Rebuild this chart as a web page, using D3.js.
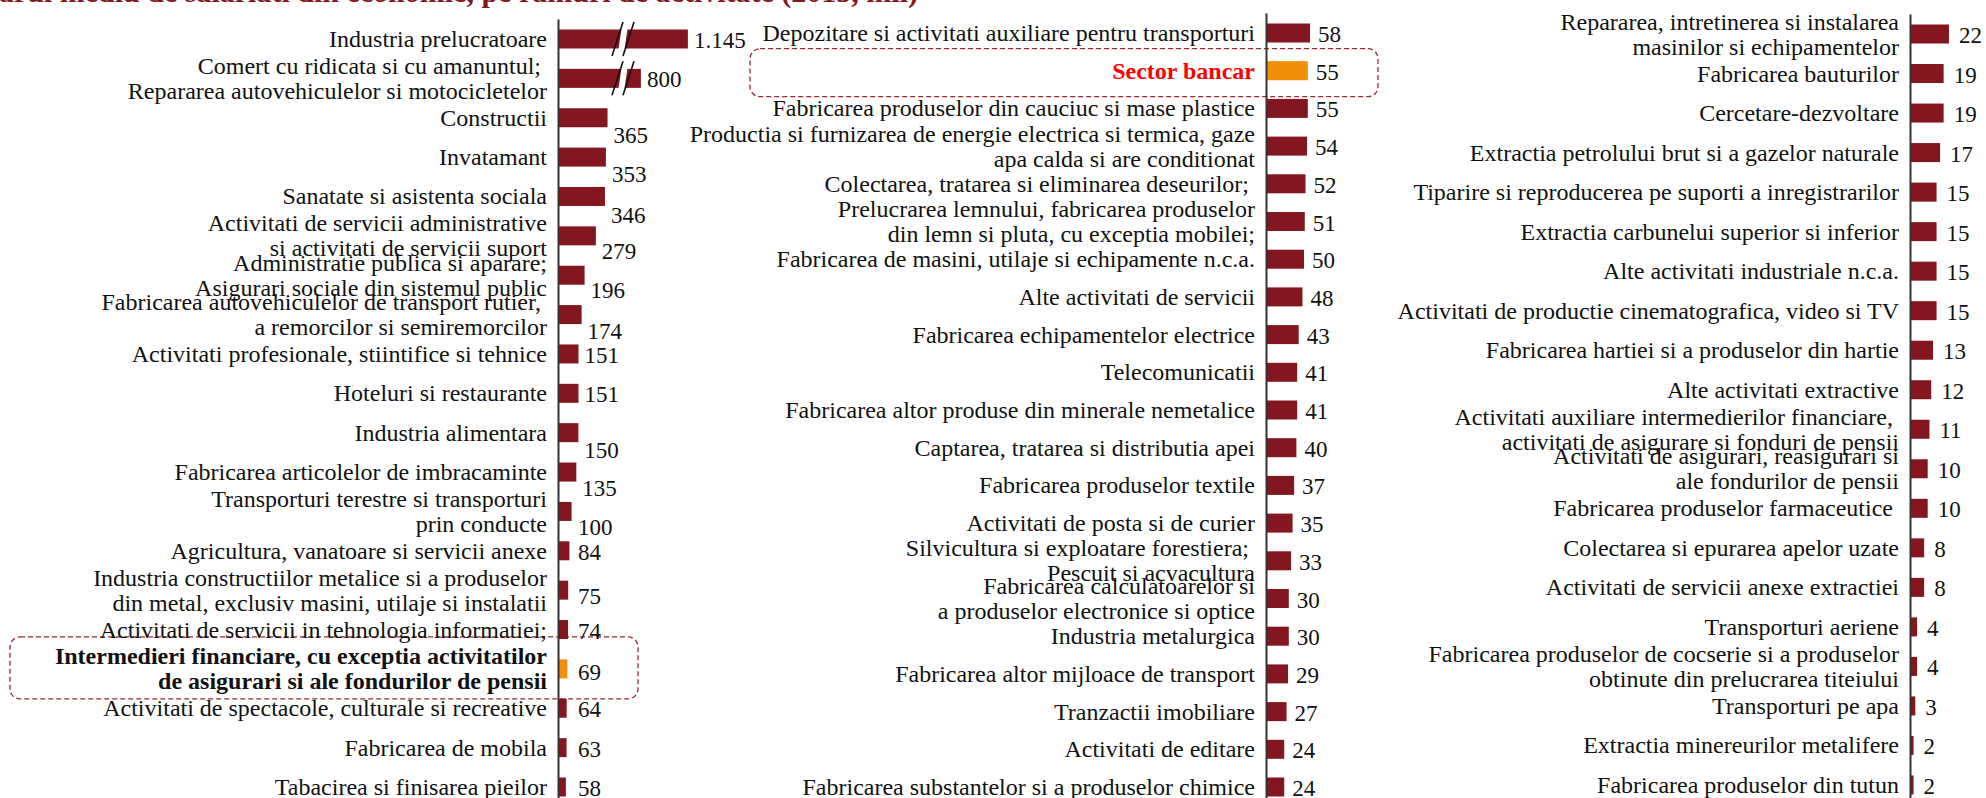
<!DOCTYPE html>
<html>
<head>
<meta charset="utf-8">
<script src="https://cdn.jsdelivr.net/npm/d3@7"></script>
<style>
  html, body { margin: 0; padding: 0; background: #fff; }
  svg { display: block; font-family: "Liberation Serif", "Times New Roman", serif; }
  .label { font-size: 24px; fill: #111; }
  .value { font-size: 23px; fill: #111; }
  .axis path { stroke: #333; stroke-width: 2; }
</style>
</head>
<body>
<svg id="chart" width="1986" height="798"></svg>
<script>
var titleText = "Numarul mediu de salariati din economie, pe ramuri de activitate (2015, mii)";

// Column 1
var sectorsA = [
  "Industria prelucratoare",
  "Comert cu ridicata si cu amanuntul;\u00a0\nRepararea autovehiculelor si motocicletelor",
  "Constructii",
  "Invatamant",
  "Sanatate si asistenta sociala",
  "Activitati de servicii administrative\nsi activitati de servicii suport",
  "Administratie publica si aparare;\nAsigurari sociale din sistemul public",
  "Fabricarea autovehiculelor de transport rutier,\u00a0\na remorcilor si semiremorcilor",
  "Activitati profesionale, stiintifice si tehnice",
  "Hoteluri si restaurante",
  "Industria alimentara",
  "Fabricarea articolelor de imbracaminte",
  "Transporturi terestre si transporturi\nprin conducte",
  "Agricultura, vanatoare si servicii anexe",
  "Industria constructiilor metalice si a produselor\ndin metal, exclusiv masini, utilaje si instalatii",
  "Activitati de servicii in tehnologia informatiei;",
  "Intermedieri financiare, cu exceptia activitatilor\nde asigurari si ale fondurilor de pensii",
  "Activitati de spectacole, culturale si recreative",
  "Fabricarea de mobila",
  "Tabacirea si finisarea pieilor"
];
var valuesA = [1145, 800, 365, 353, 346, 279, 196, 174, 151, 151, 150, 135, 100, 84, 75, 74, 69, 64, 63, 58];

// Column 2
var sectorsB = [
  "Depozitare si activitati auxiliare pentru transporturi",
  "Sector bancar",
  "Fabricarea produselor din cauciuc si mase plastice",
  "Productia si furnizarea de energie electrica si termica, gaze\napa calda si are conditionat",
  "Colectarea, tratarea si eliminarea deseurilor;\u00a0",
  "Prelucrarea lemnului, fabricarea produselor\ndin lemn si pluta, cu exceptia mobilei;",
  "Fabricarea de masini, utilaje si echipamente n.c.a.",
  "Alte activitati de servicii",
  "Fabricarea echipamentelor electrice",
  "Telecomunicatii",
  "Fabricarea altor produse din minerale nemetalice",
  "Captarea, tratarea si distributia apei",
  "Fabricarea produselor textile",
  "Activitati de posta si de curier",
  "Silvicultura si exploatare forestiera;\u00a0\nPescuit si acvacultura",
  "Fabricarea calculatoarelor si\na produselor electronice si optice",
  "Industria metalurgica",
  "Fabricarea altor mijloace de transport",
  "Tranzactii imobiliare",
  "Activitati de editare",
  "Fabricarea substantelor si a produselor chimice"
];
var valuesB = [58, 55, 55, 54, 52, 51, 50, 48, 43, 41, 41, 40, 37, 35, 33, 30, 30, 29, 27, 24, 24];

// Column 3
var sectorsC = [
  "Repararea, intretinerea si instalarea\nmasinilor si echipamentelor",
  "Fabricarea bauturilor",
  "Cercetare-dezvoltare",
  "Extractia petrolului brut si a gazelor naturale",
  "Tiparire si reproducerea pe suporti a inregistrarilor",
  "Extractia carbunelui superior si inferior",
  "Alte activitati industriale n.c.a.",
  "Activitati de productie cinematografica, video si TV",
  "Fabricarea hartiei si a produselor din hartie",
  "Alte activitati extractive",
  "Activitati auxiliare intermedierilor financiare,\u00a0\nactivitati de asigurare si fonduri de pensii",
  "Activitati de asigurari, reasigurari si\nale fondurilor de pensii",
  "Fabricarea produselor farmaceutice\u00a0",
  "Colectarea si epurarea apelor uzate",
  "Activitati de servicii anexe extractiei",
  "Transporturi aeriene",
  "Fabricarea produselor de cocserie si a produselor\nobtinute din prelucrarea titeiului",
  "Transporturi pe apa",
  "Extractia minereurilor metalifere",
  "Fabricarea produselor din tutun"
];
var valuesC = [22, 19, 19, 17, 15, 15, 15, 15, 13, 12, 11, 10, 10, 8, 8, 4, 4, 3, 2, 2];

var focusSector = sectorsA[16];   // bold black label
var bankSector = "Sector bancar"; // red label

var COLORS = {
  bar: "#84161f",
  highlight: "#f08f0a",
  text: "#111",
  bank: "#ff0000",
  box: "#9b2b33",
  title: "#84161f"
};

var fmt = d3.formatLocale({ decimal: ",", thousands: ".", grouping: [3], currency: ["", ""] }).format(",d");

var breakAt = 420;

var panels = [
  {
    names: sectorsA, values: valuesA, axisX: 558, top: 19, first: 39, last: 787,
    x: d3.scaleLinear().domain([0, breakAt, 610, 1300]).range([0, 57, 57, 151]),
    gap: 6, minLabel: 20,
    // value labels that sit lower than their bar (by row index)
    drop: { 2: 16, 3: 16, 4: 18, 5: 14, 6: 14, 7: 15, 10: 16, 11: 15, 12: 15, 14: 5, 16: 2 },
    box: { x0: 10, x1: 638, h: 62, dy: -1 }
  },
  {
    names: sectorsB, values: valuesB, axisX: 1266, top: 13, first: 33, last: 787,
    x: d3.scaleLinear().domain([0, 60]).range([0, 45.6]),
    gap: 8, minLabel: 0, drop: {},
    box: { x0: 750, x1: 1378, h: 48, dy: 2 }
  },
  {
    names: sectorsC, values: valuesC, axisX: 1910, top: 14, first: 34, last: 785,
    x: d3.scaleLinear().domain([0, 25]).range([0, 44.25]),
    gap: 10, minLabel: 0, drop: {}
  }
];

var barHeight = 19;
var lineGap = 25;

var svg = d3.select("#chart");

// Title (cropped at the top edge, as in the source)
svg.append("text")
  .attr("x", 918)
  .attr("y", 2)
  .attr("text-anchor", "end")
  .attr("font-size", 30)
  .attr("font-weight", "bold")
  .attr("fill", COLORS.title)
  .text(titleText);

panels.forEach(function(p) {
  var rows = p.names.map(function(name, i) { return { name: name, value: p.values[i], i: i }; });

  var y = d3.scalePoint()
    .domain(p.names)
    .range([p.first, p.last]);

  var g = svg.append("g").attr("transform", "translate(" + p.axisX + ",0)");

  // dashed highlight box
  var boxed = rows.filter(function(d) { return d.name === focusSector || d.name === bankSector; });
  if (p.box) {
    boxed.forEach(function(d) {
      g.append("rect")
        .attr("x", p.box.x0 - p.axisX)
        .attr("y", y(d.name) + p.box.dy - p.box.h / 2)
        .attr("width", p.box.x1 - p.box.x0)
        .attr("height", p.box.h)
        .attr("rx", 10)
        .attr("fill", "none")
        .attr("stroke", COLORS.box)
        .attr("stroke-width", 1.3)
        .attr("stroke-dasharray", "5,3");
    });
  }

  // bars
  g.append("g")
    .selectAll("rect")
    .data(rows)
    .enter()
    .append("rect")
    .attr("x", 0)
    .attr("y", function(d) { return y(d.name) - barHeight / 2; })
    .attr("width", function(d) { return p.x(d.value); })
    .attr("height", barHeight)
    .attr("fill", function(d) {
      return (d.name === focusSector || d.name === bankSector) ? COLORS.highlight : COLORS.bar;
    });

  // axis break marks on the long bars
  rows.filter(function(d) { return d.value > p.x.domain()[2] && p.x.domain().length > 2; })
    .forEach(function(d) {
      var xc = p.x(breakAt) + 8, yc = y(d.name);
      g.append("path")
        .attr("d", "M" + (xc - 0.5) + "," + (yc - 17) + "L" + (xc + 5.5) + "," + (yc - 17) +
                   "L" + (xc + 0.5) + "," + (yc + 17) + "L" + (xc - 5.5) + "," + (yc + 17) + "Z")
        .attr("fill", "#fff");
      [-5.5, 5.5].forEach(function(off) {
        g.append("line")
          .attr("x1", xc + off + 5.5).attr("y1", yc - 17)
          .attr("x2", xc + off - 5.5).attr("y2", yc + 17)
          .attr("stroke", "#111")
          .attr("stroke-width", 1.6);
      });
    });

  // vertical axis line
  var yAxisScale = d3.scaleLinear().domain([0, 1]).range([p.top, 798]);
  g.append("g")
    .attr("class", "axis")
    .call(d3.axisLeft(yAxisScale).tickValues([]).tickSizeOuter(0));

  // category labels
  var labels = g.append("g")
    .selectAll("text")
    .data(rows)
    .enter()
    .append("text")
    .attr("class", "label")
    .attr("text-anchor", "end")
    .attr("font-weight", function(d) { return (d.name === focusSector || d.name === bankSector) ? "bold" : null; })
    .style("fill", function(d) { return d.name === bankSector ? COLORS.bank : COLORS.text; });

  labels.each(function(d) {
    var lines = d.name.split("\n");
    var start = y(d.name) + 8 - (lines.length - 1) * lineGap / 2;
    d3.select(this)
      .selectAll("tspan")
      .data(lines)
      .enter()
      .append("tspan")
      .attr("x", -11)
      .attr("y", function(l, k) { return start + k * lineGap; })
      .text(function(l) { return l; });
  });

  // value labels
  g.append("g")
    .selectAll("text")
    .data(rows)
    .enter()
    .append("text")
    .attr("class", "value")
    .attr("x", function(d) { return Math.max(p.x(d.value) + p.gap, p.minLabel); })
    .attr("y", function(d) { return y(d.name) + 9 + (p.drop[d.i] || 0); })
    .text(function(d) { return fmt(d.value); });
});
</script>
</body>
</html>
